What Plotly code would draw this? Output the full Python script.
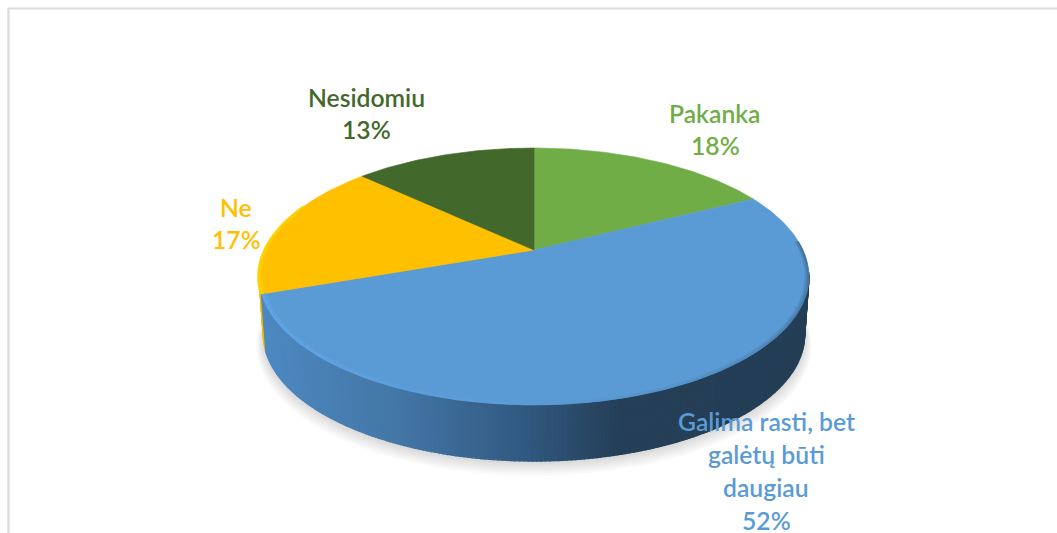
import math
import plotly.graph_objects as go

categories = ["Pakanka", "Galima rasti, bet galėtų būti daugiau", "Ne", "Nesidomiu"]
values = [17.5, 52.1, 17.4, 13.0]
colors = ["#70ad47", "#5b9bd5", "#ffc000", "#43682b"]
label_lines = [["Pakanka"], ["Galima rasti, bet", "galėtų būti", "daugiau"], ["Ne"], ["Nesidomiu"]]
label_pct = ["18%", "52%", "17%", "13%"]
label_x = [715, 766, 236, 366]
label_y = [113, 421, 207, 97]
label_gap = [32, 33, 32, 32]

CX, CY, A, B, K = 534, 250, 269, 123, 0.206
DROP, BOTTOM_SCALE = 59, 0.985
wall_stops = [(258, (77, 138, 194)), (400, (67, 118, 165)), (520, (50, 90, 130)), (620, (37, 63, 88)), (810, (36, 62, 86))]


def project(theta_deg, scale=1.0, drop=0.0):
    t = math.radians(theta_deg)
    u, v = math.sin(t) * scale, math.cos(t) * scale
    w = 1 + K * v
    return CX + A * u / w, CY + drop - B * v / w


def arc(start, end, scale=1.0, drop=0.0, step=1.0):
    n = max(2, int(abs(end - start) / step) + 1)
    return [project(start + (end - start) * i / (n - 1), scale, drop) for i in range(n)]


def mix(c0, c1, f):
    return "rgb(%d,%d,%d)" % tuple(round(c0[i] + (c1[i] - c0[i]) * f) for i in range(3))


def wall_color(x):
    for (x0, c0), (x1, c1) in zip(wall_stops, wall_stops[1:]):
        if x <= x1:
            return mix(c0, c1, max(0, (x - x0) / (x1 - x0)))
    return mix(wall_stops[-1][1], wall_stops[-1][1], 0)


fig = go.Figure()


def poly(pts, color, line=0.6):
    xs = [p[0] for p in pts] + [pts[0][0]]
    ys = [p[1] for p in pts] + [pts[0][1]]
    fig.add_trace(go.Scatter(x=xs, y=ys, mode="lines", fill="toself", fillcolor=color,
                             line=dict(color=color, width=line), hoverinfo="skip", showlegend=False))


# angular boundaries from the values, clockwise from 12 o'clock
total = sum(values)
bounds = [0]
for v in values:
    bounds.append(bounds[-1] + 360 * v / total)

# soft shadow
for i in range(7):
    s = BOTTOM_SCALE + 0.004 * i
    poly(arc(0, 360, s, DROP + 1 + 1.5 * i, 3), "rgba(0,0,0,0.022)", 0)

# side wall: visible arc only, coloured per slice
VIS_START, VIS_END = 100, 262
step = 0.75
th = VIS_END
# painted from the far left inward so that each strip overlaps its neighbour
while th > VIS_START:
    nxt = max(th - step, VIS_START)
    mid = (th + nxt) / 2
    idx = next(i for i in range(len(values)) if bounds[i] <= mid < bounds[i + 1])
    a, b = project(th), project(nxt)
    c, d = project(nxt, BOTTOM_SCALE, DROP), project(th, BOTTOM_SCALE, DROP)
    col = wall_color((a[0] + b[0]) / 2) if idx == 1 else "#f5b800"
    poly([a, b, c, d], col, 1.4)
    th = nxt

# top face
for i, col in enumerate(colors):
    poly([(CX, CY)] + arc(bounds[i], bounds[i + 1]), col)

# bevel on the near rim of the blue slice, and soft edge on the right
base = (91, 155, 213)
light = (96, 166, 232)
dark = (66, 110, 152)
start = VIS_START - 14
th = start
while th < bounds[2] - 0.5:
    nxt = min(th + 2, bounds[2])
    f = (th - start) / (bounds[2] - start)
    if f < 0.55:
        outer_col = mix(dark, base, f / 0.55)
        mid_col = mix(tuple((dark[i] + base[i]) // 2 for i in range(3)), base, f / 0.55)
    else:
        g = min(1, (f - 0.55) / 0.3)
        outer_col = mix(base, light, g)
        mid_col = mix(base, light, g * 0.55)
    poly([project(th, 0.994), project(nxt, 0.994), project(nxt, 0.986), project(th, 0.986)], mid_col, 0.3)
    poly([project(th), project(nxt), project(nxt, 0.994), project(th, 0.994)], outer_col, 0.3)
    th = nxt

# bevel on the rim of the yellow slice
th = bounds[2]
while th < bounds[3] - 22:
    nxt = th + 2
    poly([project(th, 1.006), project(nxt, 1.006), project(nxt, 0.992), project(th, 0.992)], "#ffd000", 0.3)
    th = nxt

annotations = []
for i, lines in enumerate(label_lines):
    rows = lines + [label_pct[i]]
    for j, row in enumerate(rows):
        annotations.append(dict(x=label_x[i], y=label_y[i] + j * label_gap[i], xref="x", yref="y", text=row,
                                showarrow=False, xanchor="center", yanchor="middle",
                                font=dict(family="Lato", size=24.7, color=colors[i], weight=600)))

frame = dict(type="path", path="M 8.5 533 L 8.5 8.5 L 1057 8.5", line=dict(color="#dcdcdc", width=2.2),
             xref="x", yref="y", layer="below")

fig.update_layout(
    width=1057, height=533, margin=dict(l=0, r=0, t=0, b=0, pad=0), autosize=False,
    paper_bgcolor="white", plot_bgcolor="white", showlegend=False,
    xaxis=dict(range=[0, 1057], visible=False, fixedrange=True),
    yaxis=dict(range=[533, 0], visible=False, fixedrange=True),
    annotations=annotations, shapes=[frame],
)
fig.write_html("out.html", config=dict(displayModeBar=False),
               post_script="document.body.style.margin='0';document.documentElement.style.overflow='hidden';")
